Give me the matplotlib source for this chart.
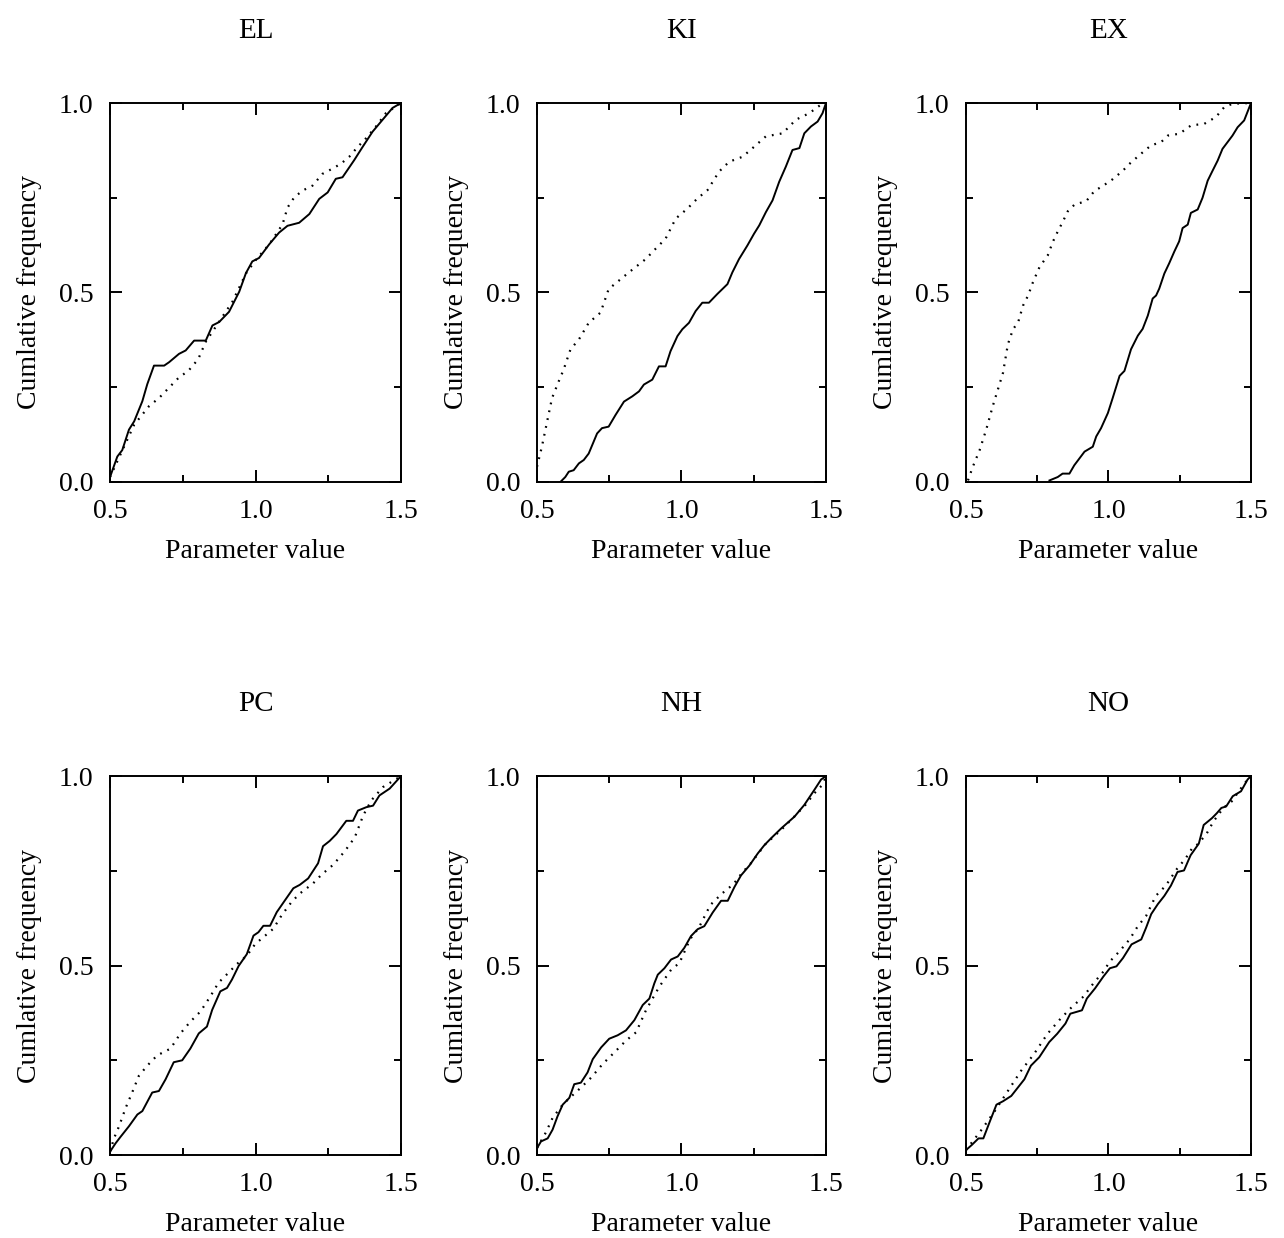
import numpy as np
import matplotlib.pyplot as plt
from matplotlib.ticker import MultipleLocator

plt.rcParams["font.family"] = ["Liberation Serif", "DejaVu Serif"]

panels = ["EL", "KI", "EX", "PC", "NH", "NO"]

# cumulative frequency curves: (x, y) pairs, solid and dotted per panel
el_solid_x = [0.5, 0.525, 0.542, 0.565, 0.583, 0.611, 0.628, 0.651, 0.686, 0.703, 0.737, 0.760, 0.789, 0.829,
              0.852, 0.875, 0.909, 0.944, 0.967, 0.989, 1.012, 1.047, 1.081, 1.110, 1.150, 1.185, 1.219, 1.248,
              1.276, 1.299, 1.339, 1.368, 1.402, 1.437, 1.471, 1.5]
el_solid_y = [0.013, 0.067, 0.084, 0.138, 0.16, 0.213, 0.258, 0.307, 0.307, 0.316, 0.338, 0.347, 0.373, 0.373,
              0.413, 0.422, 0.449, 0.502, 0.551, 0.582, 0.591, 0.627, 0.658, 0.676, 0.684, 0.707, 0.747, 0.764,
              0.8, 0.804, 0.849, 0.884, 0.924, 0.956, 0.987, 1.0]
el_dot_x = [0.5, 0.583, 0.634, 0.669, 0.703, 0.737, 0.769, 0.803, 0.829, 0.921, 0.967, 1.0, 1.047, 1.07, 1.093,
            1.11, 1.133, 1.162, 1.196, 1.23, 1.265, 1.294, 1.322, 1.351, 1.380, 1.414, 1.448, 1.5]
el_dot_y = [0.013, 0.151, 0.2, 0.222, 0.249, 0.276, 0.293, 0.324, 0.37, 0.476, 0.55, 0.585, 0.627, 0.653, 0.68,
            0.724, 0.751, 0.769, 0.782, 0.813, 0.827, 0.84, 0.858, 0.884, 0.907, 0.938, 0.973, 1.0]

ki_solid_x = [0.581, 0.598, 0.610, 0.627, 0.645, 0.662, 0.679, 0.708, 0.725, 0.748, 0.772, 0.801, 0.830, 0.853,
              0.870, 0.899, 0.922, 0.945, 0.962, 0.986, 1.003, 1.026, 1.049, 1.072, 1.095, 1.124, 1.159, 1.176,
              1.199, 1.228, 1.251, 1.269, 1.292, 1.315, 1.338, 1.361, 1.384, 1.408, 1.425, 1.448, 1.471, 1.488, 1.5]
ki_solid_y = [0.0, 0.013, 0.027, 0.031, 0.049, 0.058, 0.075, 0.128, 0.142, 0.146, 0.177, 0.212, 0.226, 0.239,
              0.257, 0.27, 0.305, 0.305, 0.345, 0.385, 0.403, 0.42, 0.451, 0.473, 0.473, 0.496, 0.522, 0.553,
              0.588, 0.624, 0.655, 0.677, 0.712, 0.743, 0.792, 0.832, 0.876, 0.881, 0.92, 0.938, 0.951, 0.973, 1.0]
ki_dot_x = [0.5, 0.517, 0.535, 0.552, 0.575, 0.592, 0.616, 0.645, 0.679, 0.720, 0.748, 0.783, 0.818, 0.876, 0.910,
            0.945, 0.980, 1.020, 1.055, 1.090, 1.130, 1.165, 1.211, 1.246, 1.292, 1.350, 1.396, 1.442, 1.483, 1.5]
ki_dot_y = [0.04, 0.093, 0.159, 0.221, 0.265, 0.296, 0.35, 0.376, 0.42, 0.447, 0.509, 0.531, 0.553, 0.588, 0.615,
            0.642, 0.695, 0.721, 0.748, 0.77, 0.819, 0.845, 0.858, 0.881, 0.912, 0.92, 0.956, 0.973, 0.996, 1.0]

ex_solid_x = [0.793, 0.822, 0.839, 0.863, 0.880, 0.916, 0.945, 0.957, 0.974, 0.998, 1.015, 1.039, 1.056, 1.079,
              1.103, 1.120, 1.138, 1.155, 1.167, 1.178, 1.196, 1.213, 1.231, 1.248, 1.260, 1.278, 1.289, 1.313,
              1.330, 1.348, 1.365, 1.383, 1.400, 1.418, 1.435, 1.453, 1.476, 1.5]
ex_solid_y = [0.004, 0.013, 0.022, 0.022, 0.044, 0.08, 0.093, 0.12, 0.142, 0.182, 0.222, 0.28, 0.293, 0.35,
              0.386, 0.404, 0.439, 0.484, 0.492, 0.51, 0.55, 0.577, 0.608, 0.635, 0.67, 0.679, 0.71, 0.719,
              0.75, 0.795, 0.821, 0.848, 0.879, 0.897, 0.914, 0.936, 0.954, 1.0]
ex_dot_x = [0.507, 0.524, 0.548, 0.571, 0.594, 0.612, 0.630, 0.647, 0.665, 0.683, 0.700, 0.718, 0.735, 0.758,
            0.787, 0.805, 0.822, 0.840, 0.857, 0.881, 0.922, 0.951, 0.980, 1.015, 1.050, 1.073, 1.114, 1.149,
            1.185, 1.208, 1.249, 1.290, 1.336, 1.377, 1.406, 1.435, 1.5]
ex_dot_y = [0.004, 0.04, 0.084, 0.138, 0.2, 0.244, 0.288, 0.363, 0.403, 0.421, 0.465, 0.492, 0.527, 0.567,
            0.598, 0.634, 0.661, 0.687, 0.714, 0.732, 0.741, 0.768, 0.781, 0.799, 0.821, 0.839, 0.866, 0.888,
            0.897, 0.914, 0.919, 0.941, 0.945, 0.963, 0.989, 0.998, 1.0]

pc_solid_x = [0.5, 0.519, 0.537, 0.565, 0.594, 0.611, 0.645, 0.668, 0.691, 0.719, 0.748, 0.776, 0.805, 0.833,
              0.851, 0.879, 0.902, 0.919, 0.942, 0.970, 0.993, 1.010, 1.027, 1.050, 1.073, 1.101, 1.130, 1.152,
              1.181, 1.215, 1.232, 1.255, 1.278, 1.312, 1.335, 1.352, 1.381, 1.404, 1.426, 1.461, 1.5]
pc_solid_y = [0.009, 0.031, 0.049, 0.076, 0.107, 0.116, 0.165, 0.169, 0.2, 0.245, 0.25, 0.281, 0.321, 0.339,
              0.383, 0.432, 0.441, 0.463, 0.499, 0.53, 0.579, 0.588, 0.605, 0.605, 0.641, 0.672, 0.704, 0.713,
              0.73, 0.77, 0.815, 0.829, 0.847, 0.882, 0.882, 0.909, 0.918, 0.922, 0.949, 0.967, 1.0]
pc_dot_x = [0.5, 0.514, 0.531, 0.554, 0.576, 0.599, 0.628, 0.662, 0.708, 0.742, 0.776, 0.811, 0.845, 0.873,
            0.907, 0.936, 0.970, 0.999, 1.027, 1.061, 1.090, 1.124, 1.152, 1.198, 1.227, 1.267, 1.307, 1.341,
            1.370, 1.398, 1.438, 1.5]
pc_dot_y = [0.009, 0.045, 0.076, 0.125, 0.165, 0.209, 0.236, 0.263, 0.281, 0.321, 0.352, 0.379, 0.419, 0.455,
            0.481, 0.504, 0.526, 0.557, 0.575, 0.597, 0.633, 0.668, 0.69, 0.717, 0.74, 0.766, 0.802, 0.838,
            0.896, 0.936, 0.971, 1.0]

nh_solid_x = [0.5, 0.514, 0.537, 0.554, 0.571, 0.589, 0.612, 0.629, 0.652, 0.675, 0.693, 0.722, 0.750, 0.779,
              0.808, 0.837, 0.866, 0.889, 0.906, 0.918, 0.941, 0.964, 0.987, 1.010, 1.033, 1.056, 1.079, 1.108,
              1.137, 1.160, 1.183, 1.206, 1.235, 1.264, 1.287, 1.310, 1.345, 1.391, 1.425, 1.460, 1.483, 1.5]
nh_solid_y = [0.018, 0.036, 0.044, 0.067, 0.102, 0.133, 0.151, 0.187, 0.191, 0.218, 0.253, 0.284, 0.307, 0.316,
              0.329, 0.356, 0.396, 0.413, 0.453, 0.476, 0.493, 0.516, 0.524, 0.547, 0.578, 0.596, 0.604, 0.64,
              0.671, 0.671, 0.707, 0.738, 0.764, 0.796, 0.818, 0.836, 0.862, 0.893, 0.924, 0.964, 0.991, 1.0]
nh_dot_x = [0.5, 0.531, 0.554, 0.589, 0.612, 0.652, 0.687, 0.727, 0.768, 0.808, 0.843, 0.877, 0.923, 0.964,
            0.993, 1.03, 1.06, 1.10, 1.14, 1.18, 1.21, 1.24, 1.29, 1.35, 1.39, 1.43, 1.46, 1.489, 1.5]
nh_dot_y = [0.018, 0.06, 0.098, 0.133, 0.15, 0.178, 0.204, 0.24, 0.271, 0.302, 0.324, 0.382, 0.444, 0.489,
            0.507, 0.57, 0.6, 0.66, 0.69, 0.715, 0.745, 0.77, 0.82, 0.862, 0.893, 0.925, 0.955, 0.978, 1.0]

no_solid_x = [0.5, 0.521, 0.544, 0.561, 0.584, 0.607, 0.630, 0.659, 0.682, 0.705, 0.728, 0.757, 0.792, 0.820,
              0.849, 0.866, 0.907, 0.924, 0.953, 0.982, 1.005, 1.028, 1.051, 1.081, 1.115, 1.132, 1.150, 1.173,
              1.196, 1.219, 1.242, 1.265, 1.288, 1.317, 1.334, 1.363, 1.380, 1.396, 1.413, 1.436, 1.465, 1.488, 1.5]
no_solid_y = [0.013, 0.027, 0.044, 0.044, 0.089, 0.133, 0.142, 0.156, 0.178, 0.2, 0.236, 0.258, 0.298, 0.32,
              0.347, 0.373, 0.382, 0.413, 0.44, 0.471, 0.493, 0.498, 0.52, 0.556, 0.569, 0.6, 0.636, 0.662,
              0.684, 0.711, 0.747, 0.751, 0.791, 0.822, 0.871, 0.889, 0.902, 0.916, 0.92, 0.947, 0.96, 0.991, 1.0]
no_dot_x = [0.5, 0.555, 0.601, 0.647, 0.693, 0.739, 0.786, 0.832, 0.872, 0.912, 0.947, 0.982, 1.005, 1.039,
            1.074, 1.103, 1.132, 1.166, 1.201, 1.241, 1.270, 1.293, 1.316, 1.345, 1.368, 1.403, 1.432, 1.461,
            1.484, 1.5]
no_dot_y = [0.013, 0.067, 0.116, 0.169, 0.222, 0.267, 0.32, 0.36, 0.391, 0.418, 0.453, 0.484, 0.511, 0.538,
            0.569, 0.604, 0.631, 0.684, 0.711, 0.756, 0.782, 0.809, 0.822, 0.849, 0.88, 0.916, 0.933, 0.964,
            0.987, 1.0]

solid = [(el_solid_x, el_solid_y), (ki_solid_x, ki_solid_y), (ex_solid_x, ex_solid_y),
         (pc_solid_x, pc_solid_y), (nh_solid_x, nh_solid_y), (no_solid_x, no_solid_y)]
dotted = [(el_dot_x, el_dot_y), (ki_dot_x, ki_dot_y), (ex_dot_x, ex_dot_y),
          (pc_dot_x, pc_dot_y), (nh_dot_x, nh_dot_y), (no_dot_x, no_dot_y)]

fig = plt.figure(figsize=(12.84, 12.38), dpi=100)

lefts = [0.0857, 0.4182, 0.7523]
widths = [0.2266, 0.2251, 0.2220]
bottoms = [0.6107, 0.0670]
height = 0.3061

for i, name in enumerate(panels):
    row, col = divmod(i, 3)
    ax = fig.add_axes([lefts[col], bottoms[row], widths[col], height])

    ax.plot(solid[i][0], solid[i][1], color="black", lw=1.4)
    ax.plot(dotted[i][0], dotted[i][1], color="black", lw=1.6, linestyle=(0, (0.8, 2.8)))

    ax.set_xlim(0.5, 1.5)
    ax.set_ylim(0.0, 1.0)
    ax.xaxis.set_major_locator(MultipleLocator(0.5))
    ax.xaxis.set_minor_locator(MultipleLocator(0.25))
    ax.yaxis.set_major_locator(MultipleLocator(0.5))
    ax.yaxis.set_minor_locator(MultipleLocator(0.25))
    ax.xaxis.set_major_formatter(lambda v, p: f"{v:.1f}")
    ax.yaxis.set_major_formatter(lambda v, p: f"{v:.1f}")
    ax.tick_params(which="both", direction="in", top=True, right=True, width=1.4, labelsize=20)
    ax.tick_params(which="major", length=8.5)
    ax.tick_params(which="minor", length=5)
    ax.tick_params(axis="x", which="major", pad=12)
    ax.tick_params(axis="y", which="major", pad=12)
    for sp in ax.spines.values():
        sp.set_linewidth(1.4)

    ax.set_title(name, fontsize=21, pad=47)
    ax.set_xlabel("Parameter value", fontsize=20, labelpad=11)
    ax.set_ylabel("Cumlative frequency", fontsize=20, labelpad=12)

fig.savefig("out.png", dpi=100)
